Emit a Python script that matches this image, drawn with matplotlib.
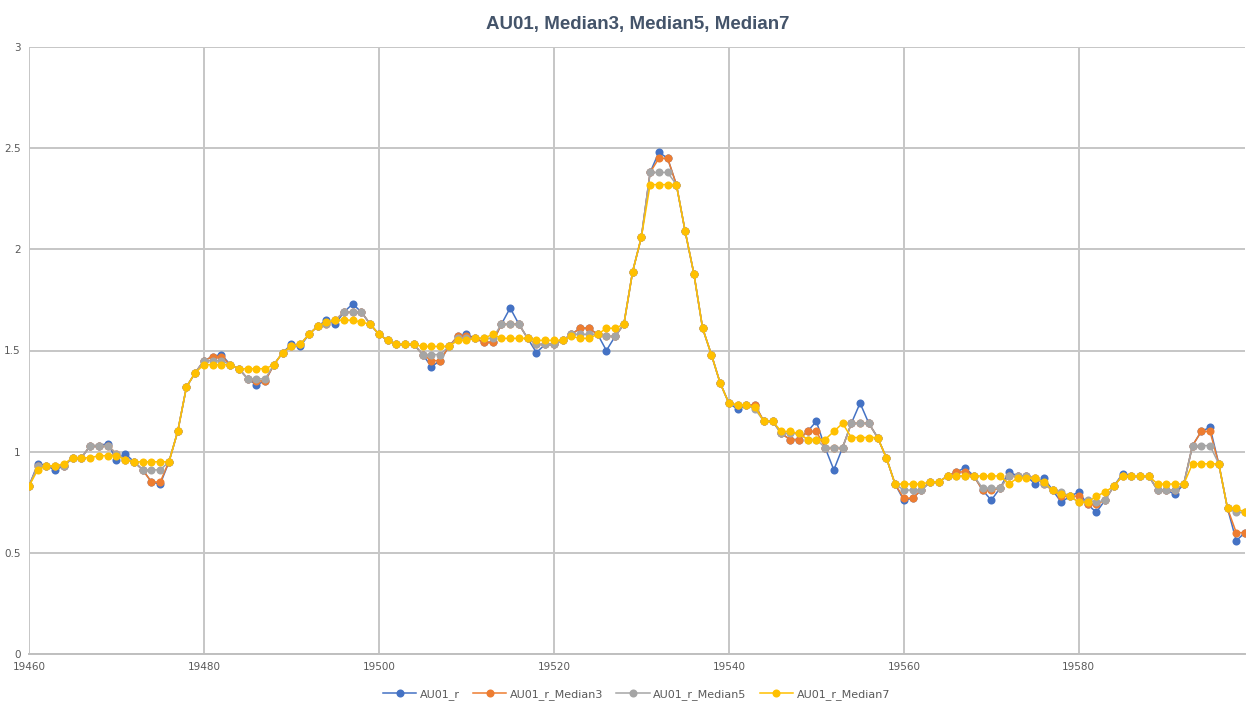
import matplotlib
matplotlib.use("Agg")
import matplotlib.pyplot as plt
from matplotlib.ticker import FuncFormatter

x_start = 19460
au01_r = [0.83, 0.94, 0.93, 0.91, 0.93, 0.97, 0.97, 1.03, 1.03, 1.04,
          0.96, 0.99, 0.95, 0.91, 0.85, 0.84, 0.95, 1.10, 1.32, 1.39,
          1.45, 1.47, 1.48, 1.43, 1.41, 1.36, 1.33, 1.35, 1.43, 1.49,
          1.53, 1.52, 1.58, 1.62, 1.65, 1.63, 1.69, 1.73, 1.69, 1.63,
          1.58, 1.55, 1.53, 1.53, 1.53, 1.48, 1.42, 1.45, 1.52, 1.57,
          1.58, 1.56, 1.54, 1.54, 1.63, 1.71, 1.63, 1.56, 1.49, 1.53,
          1.53, 1.55, 1.58, 1.61, 1.61, 1.58, 1.50, 1.57, 1.63, 1.89,
          2.06, 2.38, 2.48, 2.45, 2.32, 2.09, 1.88, 1.61, 1.48, 1.34,
          1.24, 1.21, 1.23, 1.23, 1.15, 1.15, 1.09, 1.06, 1.06, 1.10,
          1.15, 1.02, 0.91, 1.02, 1.14, 1.24, 1.14, 1.07, 0.97, 0.84,
          0.76, 0.77, 0.81, 0.85, 0.85, 0.88, 0.90, 0.92, 0.88, 0.81,
          0.76, 0.82, 0.90, 0.88, 0.88, 0.84, 0.87, 0.81, 0.75, 0.78,
          0.80, 0.74, 0.70, 0.76, 0.83, 0.89, 0.88, 0.88, 0.88, 0.81,
          0.81, 0.79, 0.84, 1.03, 1.10, 1.12, 0.94, 0.72, 0.56, 0.60]

au01_r_median3 = [0.83, 0.93, 0.93, 0.93, 0.93, 0.97, 0.97, 1.03, 1.03, 1.03,
                  0.99, 0.96, 0.95, 0.91, 0.85, 0.85, 0.95, 1.10, 1.32, 1.39,
                  1.45, 1.47, 1.47, 1.43, 1.41, 1.36, 1.35, 1.35, 1.43, 1.49,
                  1.52, 1.53, 1.58, 1.62, 1.63, 1.65, 1.69, 1.69, 1.69, 1.63,
                  1.58, 1.55, 1.53, 1.53, 1.53, 1.48, 1.45, 1.45, 1.52, 1.57,
                  1.57, 1.56, 1.54, 1.54, 1.63, 1.63, 1.63, 1.56, 1.53, 1.53,
                  1.53, 1.55, 1.58, 1.61, 1.61, 1.58, 1.57, 1.57, 1.63, 1.89,
                  2.06, 2.38, 2.45, 2.45, 2.32, 2.09, 1.88, 1.61, 1.48, 1.34,
                  1.24, 1.23, 1.23, 1.23, 1.15, 1.15, 1.09, 1.06, 1.06, 1.10,
                  1.10, 1.02, 1.02, 1.02, 1.14, 1.14, 1.14, 1.07, 0.97, 0.84,
                  0.77, 0.77, 0.81, 0.85, 0.85, 0.88, 0.90, 0.90, 0.88, 0.81,
                  0.81, 0.82, 0.88, 0.88, 0.88, 0.87, 0.84, 0.81, 0.78, 0.78,
                  0.78, 0.74, 0.74, 0.76, 0.83, 0.88, 0.88, 0.88, 0.88, 0.81,
                  0.81, 0.81, 0.84, 1.03, 1.10, 1.10, 0.94, 0.72, 0.60, 0.60]

au01_r_median5 = [0.83, 0.93, 0.93, 0.93, 0.93, 0.97, 0.97, 1.03, 1.03, 1.03,
                  0.99, 0.96, 0.95, 0.91, 0.91, 0.91, 0.95, 1.10, 1.32, 1.39,
                  1.45, 1.45, 1.45, 1.43, 1.41, 1.36, 1.36, 1.36, 1.43, 1.49,
                  1.52, 1.53, 1.58, 1.62, 1.63, 1.65, 1.69, 1.69, 1.69, 1.63,
                  1.58, 1.55, 1.53, 1.53, 1.53, 1.48, 1.48, 1.48, 1.52, 1.56,
                  1.56, 1.56, 1.56, 1.56, 1.63, 1.63, 1.63, 1.56, 1.53, 1.53,
                  1.53, 1.55, 1.58, 1.58, 1.58, 1.58, 1.57, 1.57, 1.63, 1.89,
                  2.06, 2.38, 2.38, 2.38, 2.32, 2.09, 1.88, 1.61, 1.48, 1.34,
                  1.24, 1.23, 1.23, 1.21, 1.15, 1.15, 1.09, 1.09, 1.09, 1.06,
                  1.06, 1.02, 1.02, 1.02, 1.14, 1.14, 1.14, 1.07, 0.97, 0.84,
                  0.81, 0.81, 0.81, 0.85, 0.85, 0.88, 0.88, 0.88, 0.88, 0.82,
                  0.82, 0.82, 0.88, 0.88, 0.88, 0.87, 0.84, 0.81, 0.80, 0.78,
                  0.75, 0.76, 0.75, 0.76, 0.83, 0.88, 0.88, 0.88, 0.88, 0.81,
                  0.81, 0.81, 0.84, 1.03, 1.03, 1.03, 0.94, 0.72, 0.70, 0.70]

au01_r_median7 = [0.83, 0.91, 0.93, 0.93, 0.94, 0.97, 0.97, 0.97, 0.98, 0.98,
                  0.98, 0.96, 0.95, 0.95, 0.95, 0.95, 0.95, 1.10, 1.32, 1.39,
                  1.43, 1.43, 1.43, 1.43, 1.41, 1.41, 1.41, 1.41, 1.43, 1.49,
                  1.52, 1.53, 1.58, 1.62, 1.64, 1.65, 1.65, 1.65, 1.64, 1.63,
                  1.58, 1.55, 1.53, 1.53, 1.53, 1.52, 1.52, 1.52, 1.52, 1.55,
                  1.55, 1.56, 1.56, 1.58, 1.56, 1.56, 1.56, 1.56, 1.55, 1.55,
                  1.55, 1.55, 1.57, 1.56, 1.56, 1.58, 1.61, 1.61, 1.63, 1.89,
                  2.06, 2.32, 2.32, 2.32, 2.32, 2.09, 1.88, 1.61, 1.48, 1.34,
                  1.24, 1.23, 1.23, 1.22, 1.15, 1.15, 1.10, 1.10, 1.09, 1.06,
                  1.06, 1.06, 1.10, 1.14, 1.07, 1.07, 1.07, 1.07, 0.97, 0.84,
                  0.84, 0.84, 0.84, 0.85, 0.85, 0.88, 0.88, 0.88, 0.88, 0.88,
                  0.88, 0.88, 0.84, 0.87, 0.87, 0.87, 0.85, 0.81, 0.79, 0.78,
                  0.75, 0.75, 0.78, 0.80, 0.83, 0.88, 0.88, 0.88, 0.88, 0.84,
                  0.84, 0.84, 0.84, 0.94, 0.94, 0.94, 0.94, 0.72, 0.72, 0.70]

series_names = ["AU01_r", "AU01_r_Median3", "AU01_r_Median5", "AU01_r_Median7"]
series_values = [au01_r, au01_r_median3, au01_r_median5, au01_r_median7]
series_colors = ["#4472C4", "#ED7D31", "#A5A5A5", "#FFC000"]
x_ticks = [19460, 19480, 19500, 19520, 19540, 19560, 19580]
y_ticks = [0, 0.5, 1, 1.5, 2, 2.5, 3]
title = "AU01, Median3, Median5, Median7"

xs = [x_start + i for i in range(len(au01_r))]

fig = plt.figure(figsize=(12.48, 7.06), dpi=100)
ax = fig.add_axes([29 / 1248, 1 - 654 / 706, (1245 - 29) / 1248, (654 - 47) / 706])

for name, vals, col in zip(series_names, series_values, series_colors):
    ax.plot(xs, vals, color=col, lw=1.1, marker="o", markersize=5.8,
            markeredgewidth=0, label=name, zorder=3)

ax.set_xlim(19460, 19599)
ax.set_ylim(0, 3)
ax.set_xticks(x_ticks)
ax.set_yticks(y_ticks)
ax.yaxis.set_major_formatter(FuncFormatter(lambda v, p: f"{v:g}"))
ax.grid(True, color="#C6C6C6", lw=1.4, zorder=0)
for s in ["top", "right", "left"]:
    ax.spines[s].set_visible(False)
ax.spines["bottom"].set_color("#BFBFBF")
ax.spines["bottom"].set_linewidth(1.4)
ax.tick_params(axis="both", length=0, labelsize=7.5, labelcolor="#595959")
ax.tick_params(axis="y", pad=6)
ax.tick_params(axis="x", pad=6)

fig.suptitle(title, x=0.511, y=0.977, fontsize=13.5, fontweight="bold",
             color="#44546A", family=["Liberation Sans", "DejaVu Sans"])

leg = fig.legend(loc="lower center", bbox_to_anchor=(0.51, -0.005), ncol=4,
                 frameon=False, fontsize=8, handlelength=3.0,
                 columnspacing=1.2, handletextpad=0.3)
for t in leg.get_texts():
    t.set_color("#595959")

fig.savefig("out.png", dpi=100)
